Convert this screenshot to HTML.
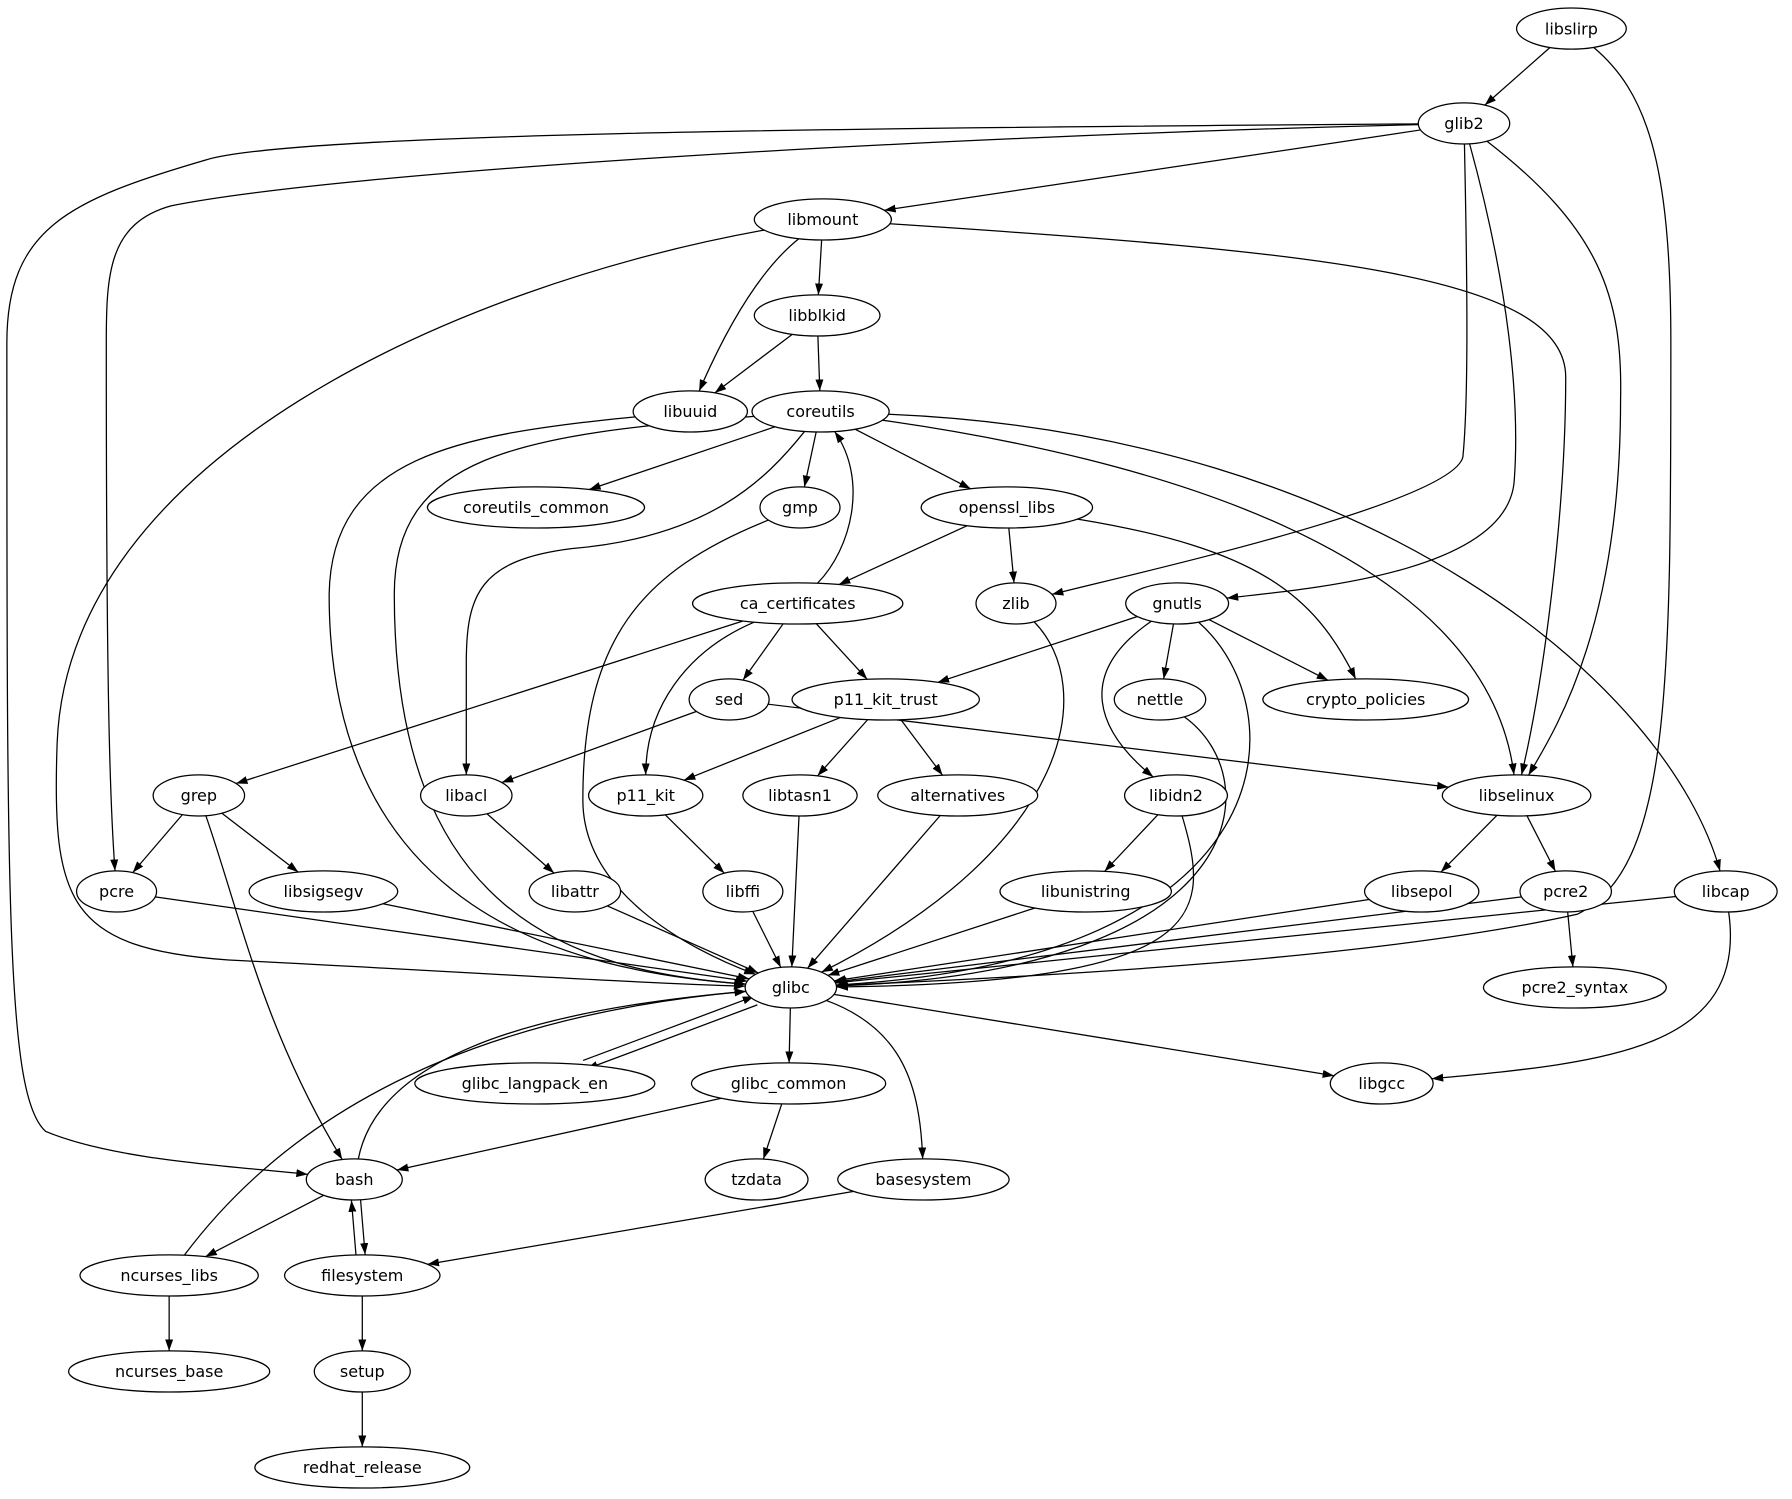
<!DOCTYPE html>
<html><head><meta charset="utf-8"><style>html,body{margin:0;padding:0;background:#fff}svg{display:block}text{font-family:"DejaVu Sans","Liberation Sans",sans-serif;font-size:14px}</style></head>
<body>
<svg id="g" xmlns="http://www.w3.org/2000/svg" width="1792" height="1499" viewBox="0 0 1568 1311.6">
<defs><marker id="a" viewBox="0 0 10 10" refX="10" refY="5" markerWidth="10" markerHeight="10" markerUnits="userSpaceOnUse" orient="auto"><path d="M0,1.5 L10,5 L0,8.5z" fill="#000"/></marker></defs>
</svg>
<script>
var N={libslirp:[1375,25,48],glib2:[1281,108,40],libmount:[720,192,60],libblkid:[715,276,55],libuuid:[604,360,50],coreutils:[718,360,60],coreutils_common:[469,444,95],gmp:[700,444,35],openssl_libs:[881,444,75],ca_certificates:[698,528,92],zlib:[889,528,35],gnutls:[1030,528,45],sed:[638,612,35],p11_kit_trust:[775,612,82],nettle:[1015,612,40],crypto_policies:[1195,612,90],grep:[174,696,40],libacl:[408,696,40],p11_kit:[565,696,50],libtasn1:[700,696,50],alternatives:[838,696,70],libidn2:[1029,696,45],libselinux:[1327,696,65],pcre:[102,780,35],libsigsegv:[283,780,65],libattr:[503,780,40],libffi:[650,780,35],libunistring:[950,780,75],libsepol:[1244,780,50],pcre2:[1370,780,40],libcap:[1510,780,45],glibc:[692,864,40],pcre2_syntax:[1378,864,80],glibc_langpack_en:[468,948,105],glibc_common:[690,948,85],libgcc:[1209,948,45],bash:[310,1032,42],tzdata:[662,1032,45],basesystem:[808,1032,75],ncurses_libs:[148,1116,78],filesystem:[317,1116,68],ncurses_base:[148,1200,88],setup:[317,1200,42],redhat_release:[317,1284,94]};
var E=[
['libslirp','glib2'],
['libslirp','glibc',[[1440,80],[1462,140],[1462,300],[1462,600],[1462,760],[1380,800],[1200,840],[900,855]]],
['glib2','libmount'],
['glib2','bash',[[800,112],[260,115],[180,140],[60,175],[6,200],[6,300],[6,800],[6,960],[40,990],[100,1015],[200,1020]]],
['glib2','pcre',[[800,120],[300,150],[150,180],[95,195],[93,240],[93,300],[93,600],[96,700]]],
['glib2','zlib',[[1284,250],[1285,350],[1280,400],[1270,440],[1000,500]]],
['glib2','gnutls',[[1320,250],[1330,350],[1325,420],[1320,500],[1150,515]]],
['glib2','libselinux',[[1400,200],[1420,260],[1418,350],[1418,550],[1360,640]]],
['libmount','libblkid'],['libmount','libuuid',[[660,240],[630,300]]],
['libmount','glibc',[[400,250],[60,400],[50,650],[45,790],[60,830],[200,840],[400,850],[550,860]]],
['libmount','libselinux',[[1150,220],[1370,240],[1370,330],[1370,450],[1350,600]]],
['libblkid','libuuid'],['libblkid','coreutils'],
['libuuid','glibc',[[400,380],[290,400],[288,520],[288,800],[500,850]]],
['coreutils','glibc',[[450,380],[345,400],[345,520],[345,800],[500,850]]],
['coreutils','coreutils_common'],['coreutils','gmp'],['coreutils','openssl_libs'],
['coreutils','libacl',[[670,420],[620,470],[500,480],[420,490],[408,520],[408,580],[408,640],[408,660]]],
['coreutils','libselinux',[[1000,400],[1300,480]]],
['coreutils','libcap',[[1200,380],[1460,600]]],
['gmp','glibc',[[560,500],[510,560],[510,700],[510,780],[600,830]]],
['openssl_libs','ca_certificates'],['openssl_libs','zlib'],['openssl_libs','crypto_policies',[[1100,480],[1150,520]]],
['ca_certificates','coreutils',[[745,480],[760,420]]],['ca_certificates','grep'],['ca_certificates','sed'],['ca_certificates','p11_kit_trust'],
['ca_certificates','p11_kit',[[600,570],[565,620]]],
['zlib','glibc',[[960,600],[940,740]]],
['gnutls','p11_kit_trust'],['gnutls','nettle'],['gnutls','crypto_policies'],
['gnutls','libidn2',[[940,590],[960,640]]],['gnutls','glibc',[[1135,620],[1130,840]]],
['sed','libacl'],['sed','libselinux'],
['p11_kit_trust','p11_kit'],['p11_kit_trust','libtasn1'],['p11_kit_trust','alternatives'],
['nettle','glibc',[[1110,680],[1100,850]]],
['grep','pcre'],['grep','libsigsegv'],['grep','bash',[[210,800],[230,900]]],
['libacl','libattr'],['p11_kit','libffi'],['libtasn1','glibc'],['alternatives','glibc'],
['libidn2','libunistring'],['libidn2','glibc',[[1060,800],[1060,860]]],
['libselinux','libsepol'],['libselinux','pcre2'],
['pcre','glibc'],['libsigsegv','glibc'],['libattr','glibc'],['libffi','glibc'],['libunistring','glibc'],['libsepol','glibc'],['pcre2','glibc'],['libcap','glibc'],
['pcre2','pcre2_syntax'],['libcap','libgcc',[[1530,920],[1400,930]]],
['glibc','glibc_langpack_en',null,-4],['glibc_langpack_en','glibc',null,-4],
['glibc','glibc_common'],['glibc','libgcc'],['glibc','basesystem',[[790,900],[805,950]]],
['glibc_common','bash'],['glibc_common','tzdata'],
['bash','glibc',[[330,930],[450,885]]],['ncurses_libs','glibc',[[250,980],[400,890]]],
['bash','ncurses_libs'],['bash','filesystem',null,-4],['filesystem','bash',null,-4],
['basesystem','filesystem'],['filesystem','setup'],['setup','redhat_release'],['ncurses_libs','ncurses_base']];
var svg=document.getElementById('g'),NS='http://www.w3.org/2000/svg',RY=18;
function clip(n,q){var cx=n[0],cy=n[1],a=n[2],b=RY,dx=q[0]-cx,dy=q[1]-cy;var t=1/Math.sqrt(dx*dx/(a*a)+dy*dy/(b*b));return [cx+dx*t,cy+dy*t];}
function el(t,at,txt){var e=document.createElementNS(NS,t);for(var k in at)e.setAttribute(k,at[k]);if(txt)e.textContent=txt;svg.appendChild(e);return e;}
E.forEach(function(e){var s=N[e[0]],t=N[e[1]],mid=e[2]||[];var off=e[3]||0;
 var S=[s[0],s[1]],T=[t[0],t[1]];
 if(off){var dx=t[0]-s[0],dy=t[1]-s[1],L=Math.hypot(dx,dy);var ox=-dy/L*off,oy=dx/L*off;S=[s[0]+ox,s[1]+oy];T=[t[0]+ox,t[1]+oy];}
 var first=mid.length?mid[0]:T,last=mid.length?mid[mid.length-1]:S;
 var a=clip([S[0],S[1],s[2]],first),b=clip([T[0],T[1],t[2]],last);
 var d='M'+a[0]+','+a[1];
 if(!mid.length)d+=' L'+b[0]+','+b[1];
 else{var pts=mid.concat([b]);d+=' C';d+=pts.map(function(p){return p[0]+','+p[1];}).join(' ');}
 el('path',{d:d,fill:'none',stroke:'#000','stroke-width':1.1,'marker-end':'url(#a)'});});
for(var k in N){var n=N[k];el('ellipse',{cx:n[0],cy:n[1],rx:n[2],ry:RY,fill:'#fff',stroke:'#000','stroke-width':1.1});el('text',{x:n[0],y:n[1]+5,'text-anchor':'middle'},k);}
</script>
</body></html>
